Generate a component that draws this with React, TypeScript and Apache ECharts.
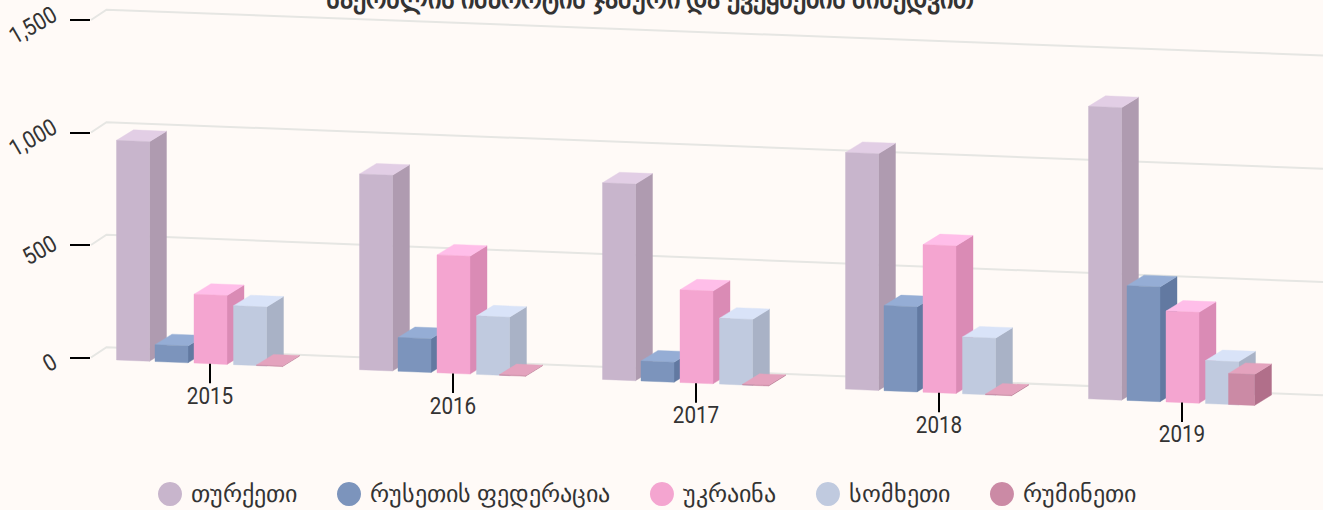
import React, { useEffect, useRef } from "react";
import * as echarts from "echarts";

const categories = ["2015", "2016", "2017", "2018", "2019"];
const turkey = [976, 870, 874, 1052, 1300];
const russia = [75, 150, 89, 378, 510];
const ukraine = [306, 524, 412, 656, 404];
const armenia = [262, 260, 293, 253, 191];
const romania = [3, 3, 3, 3, 138];
const yTicks = [0, 500, 1000, 1500];

const seriesNames = ["თურქეთი", "რუსეთის ფედერაცია", "უკრაინა", "სომხეთი", "რუმინეთი"];
const seriesValues = [turkey, russia, ukraine, armenia, romania];
const titleText = "საქონლის იმპორტის ჯამური და ქვეყნების მიხედვით";

const fronts = ["#C8B5CC", "#7C94BC", "#F4A5D0", "#C0CADF", "#CB8AA5"];
const sides = ["#AF9BB0", "#6279A1", "#DA8BB5", "#A9B2C6", "#B16F8A"];
const tops = ["#E2CEE5", "#95ADD5", "#FFBEE9", "#D9E3F8", "#E4A3BE"];
const offsets = [-93.5, -55, -16, 23.5, 46.5];
const widths = [33, 33, 33, 33, 26];

const SLOPE = 0.04;
const X0 = 90;
const DX = 17;
const DY = -10.5;
const FRONT = 1.4;
const FONT_SIZE = 23.5;
const SCALE_X = 0.88;
const proj = (x: number, y: number) => y + SLOPE * (x - X0) + FRONT;
const fmt = (v: number) => v.toLocaleString("en-US");

export default function App() {
  const ref = useRef<HTMLDivElement>(null);
  useEffect(() => {
    document.body.style.margin = "0";
    document.body.style.overflow = "hidden";
    const chart = echarts.init(ref.current!, undefined, { renderer: "svg" });

    const barSeries = seriesNames.map((name, s) => ({
      type: "custom",
      name,
      coordinateSystem: "cartesian2d",
      itemStyle: { color: fronts[s] },
      data: seriesValues[s].map((v, i) => [i, v]),
      encode: { x: 0, y: 1 },
      clip: false,
      z: 2,
      renderItem: (_p: any, api: any) => {
        const idx = api.value(0);
        const val = api.value(1);
        const [cx, y0] = api.coord([idx, 0]);
        const y1 = api.coord([idx, val])[1];
        const l = cx + offsets[s];
        const r = l + widths[s];
        const lb = proj(l, y0), rb = proj(r, y0), lt = proj(l, y1), rt = proj(r, y1);
        const poly = (points: number[][], fill: string) => ({
          type: "polygon",
          shape: { points },
          style: { fill, stroke: fill, lineWidth: 0.4 },
        });
        return {
          type: "group",
          children: [
            poly([[r, rb], [r + DX, rb + DY], [r + DX, rt + DY], [r, rt]], sides[s]),
            poly([[l, lt], [r, rt], [r + DX, rt + DY], [l + DX, lt + DY]], tops[s]),
            poly([[l, lb], [r, rb], [r, rt], [l, lt]], fronts[s]),
          ],
        };
      },
    }));

    const gridSeries = {
      type: "custom",
      name: "grid-lines",
      coordinateSystem: "cartesian2d",
      silent: true,
      z: 1,
      clip: false,
      data: yTicks.map((v) => [0, v]),
      encode: { y: 1 },
      renderItem: (_p: any, api: any) => {
        const v = api.value(1);
        const y = api.coord([0, v])[1];
        const backX = 106.5;
        const backY = y - 10.3;
        const slope = 0.0395 - (0.0019 * v) / 1500;
        const label = fmt(v);
        const digits = label.replace(/,/g, "").length;
        const commas = label.length - digits;
        const len = FONT_SIZE * SCALE_X * (0.5615 * digits + 0.196 * commas);
        const extent = len * Math.cos(Math.PI / 6) + 8;
        return {
          type: "group",
          children: [
            {
              type: "polyline",
              shape: {
                points: [
                  [91, y],
                  [backX, backY],
                  [1323, backY + slope * (1323 - backX)],
                ],
              },
              style: { stroke: "#E6E6E3", lineWidth: 2, fill: "none" },
            },
            {
              type: "text",
              x: 58.5 - extent / 2,
              y: y + 4.8,
              rotation: Math.PI / 6,
              scaleX: SCALE_X,
              style: {
                text: label,
                x: 0,
                y: 0,
                fontFamily: "Roboto",
                fontSize: FONT_SIZE,
                fill: "#333333",
                align: "center",
                verticalAlign: "middle",
              },
            },
          ],
        };
      },
    };

    const xMarks = {
      type: "custom",
      name: "x-marks",
      coordinateSystem: "cartesian2d",
      silent: true,
      z: 3,
      clip: false,
      data: categories.map((_c, i) => [i, 0]),
      encode: { x: 0, y: 1 },
      renderItem: (_p: any, api: any) => {
        const idx = api.value(0);
        const [cx, y0] = api.coord([idx, 0]);
        const start = proj(cx, y0);
        return {
          type: "group",
          children: [
            {
              type: "line",
              shape: { x1: cx, y1: start, x2: cx, y2: start + 19.5 },
              style: { stroke: "#000", lineWidth: 2 },
            },
            {
              type: "text",
              x: cx,
              y: y0 + 38.5 + 0.0385 * (cx - 210),
              scaleX: SCALE_X,
              style: {
                text: categories[idx],
                x: 0,
                y: 0,
                fontFamily: "Roboto",
                fontSize: FONT_SIZE,
                fill: "#333333",
                align: "center",
                verticalAlign: "middle",
              },
            },
          ],
        };
      },
    };

    chart.setOption({
      animation: false,
      backgroundColor: "#FFFAF7",
      title: {
        text: titleText,
        left: 645,
        top: -19,
        textAlign: "center",
        textStyle: { fontFamily: "Roboto", fontWeight: "bold", fontSize: 26, color: "#333333" },
      },
      legend: {
        data: seriesNames,
        left: 153,
        top: 477,
        icon: "circle",
        itemWidth: 24,
        itemHeight: 24,
        itemGap: 40,
        selectedMode: false,
        textStyle: { fontFamily: "Roboto", fontSize: 24, color: "#333333", padding: [0, 0, 0, 4] },
      },
      grid: { left: 88.5, top: 20, width: 1215, height: 337.5 },
      xAxis: { type: "category", data: categories, show: false },
      yAxis: {
        type: "value",
        min: 0,
        max: 1500,
        interval: 500,
        offset: -1.5,
        axisLine: { show: false },
        axisTick: { show: true, length: 20, lineStyle: { color: "#000", width: 2 } },
        splitLine: { show: false },
        axisLabel: { show: false },
      },
      series: [gridSeries, ...barSeries, xMarks],
    });
    return () => chart.dispose();
  }, []);
  return <div ref={ref} style={{ width: 1323, height: 510 }} />;
}
